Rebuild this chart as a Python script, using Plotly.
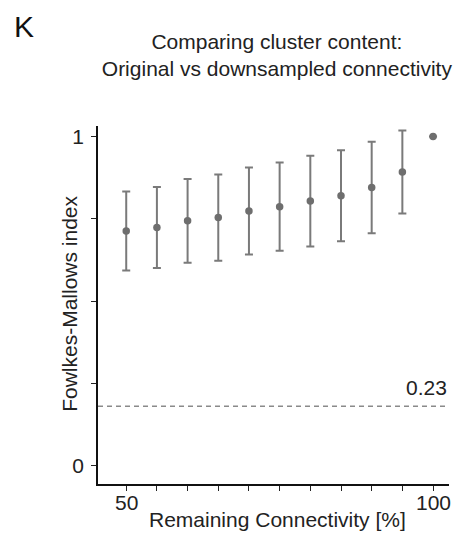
import plotly.graph_objects as go

remaining = [50, 55, 60, 65, 70, 75, 80, 85, 90, 95, 100]
fm_mean = [0.713, 0.724, 0.744, 0.754, 0.774, 0.787, 0.804, 0.820, 0.845, 0.892, 1.0]
fm_std = [0.120, 0.123, 0.127, 0.131, 0.132, 0.134, 0.138, 0.138, 0.139, 0.126, 0.0]
chance_label = "0.23"
chance_level = 0.181
y_tickvals = [0, 0.25, 0.5, 0.75, 1]
y_ticktext = ["0", "", "", "", "1"]
x_tickvals = [50, 55, 60, 65, 70, 75, 80, 85, 90, 95, 100]
x_ticktext = ["50", "", "", "", "", "", "", "", "", "", "100"]

FONT = "Liberation Sans, Arial, sans-serif"
GRAY = "#6e6e6e"
FS = 21

fig = go.Figure()
fig.add_trace(go.Scatter(
    x=remaining, y=fm_mean, mode="markers",
    marker=dict(color=GRAY, size=7.5),
    error_y=dict(type="data", array=fm_std, visible=True, color="#7a7a7a",
                 thickness=2, width=4),
    showlegend=False,
))
fig.add_shape(type="line", xref="paper", x0=0, x1=1, yref="y",
              y0=chance_level, y1=chance_level,
              line=dict(color="#8a8a8a", width=1.3, dash="5px,4px"))
fig.add_annotation(xref="paper", x=1, yref="y", y=chance_level, yshift=5,
                   text=chance_label, showarrow=False, xanchor="right", yanchor="bottom",
                   font=dict(family=FONT, size=FS, color="#222"))
fig.add_annotation(xref="paper", yref="paper", x=-0.243, y=1.326, text="K",
                   showarrow=False, xanchor="left", yanchor="top", borderpad=0,
                   font=dict(family=FONT, size=30, color="#111"))
# x tick labels (drawn as annotations for exact placement)
for v, t in zip(x_tickvals, x_ticktext):
    if t:
        fig.add_annotation(xref="x", yref="paper", x=v, y=-0.052, text=t,
                           showarrow=False, xanchor="center", yanchor="middle",
                           font=dict(family=FONT, size=FS, color="#222"))
# axis titles
fig.add_annotation(xref="paper", yref="paper", x=0.511, y=-0.0978,
                   text="Remaining Connectivity [%]", showarrow=False,
                   xanchor="center", yanchor="middle",
                   font=dict(family=FONT, size=FS, color="#222"))
fig.add_annotation(xref="paper", yref="paper", x=-0.080, y=0.503,
                   text="Fowlkes-Mallows index", showarrow=False, textangle=-90,
                   xanchor="center", yanchor="middle",
                   font=dict(family=FONT, size=FS, color="#222"))

# page body has an 8px default margin: size the figure to fit the window
fig.update_layout(
    width=462, height=526,
    margin=dict(l=90, r=21, t=118, b=50),
    paper_bgcolor="white", plot_bgcolor="white",
    font=dict(family=FONT, size=FS, color="#222"),
    title=dict(text="Comparing cluster content:<br>Original vs downsampled connectivity",
               x=0.582, xanchor="center", y=0.922, yanchor="top",
               font=dict(family=FONT, size=FS, color="#222")),
)
fig.update_xaxes(range=[45.4, 102.6], tickvals=x_tickvals, showticklabels=False,
                 ticks="outside", ticklen=5, tickwidth=1, tickcolor="#222",
                 showline=True, linecolor="#111", linewidth=1.5, showgrid=False,
                 zeroline=False)
fig.update_yaxes(range=[-0.055, 1.032], tickvals=y_tickvals, ticktext=y_ticktext,
                 ticks="outside", ticklen=5, tickwidth=1, tickcolor="#222",
                 showline=True, linecolor="#111", linewidth=1.5, showgrid=False,
                 zeroline=False, tickfont=dict(size=FS), ticklabelstandoff=3)

fig.write_html("out.html")
